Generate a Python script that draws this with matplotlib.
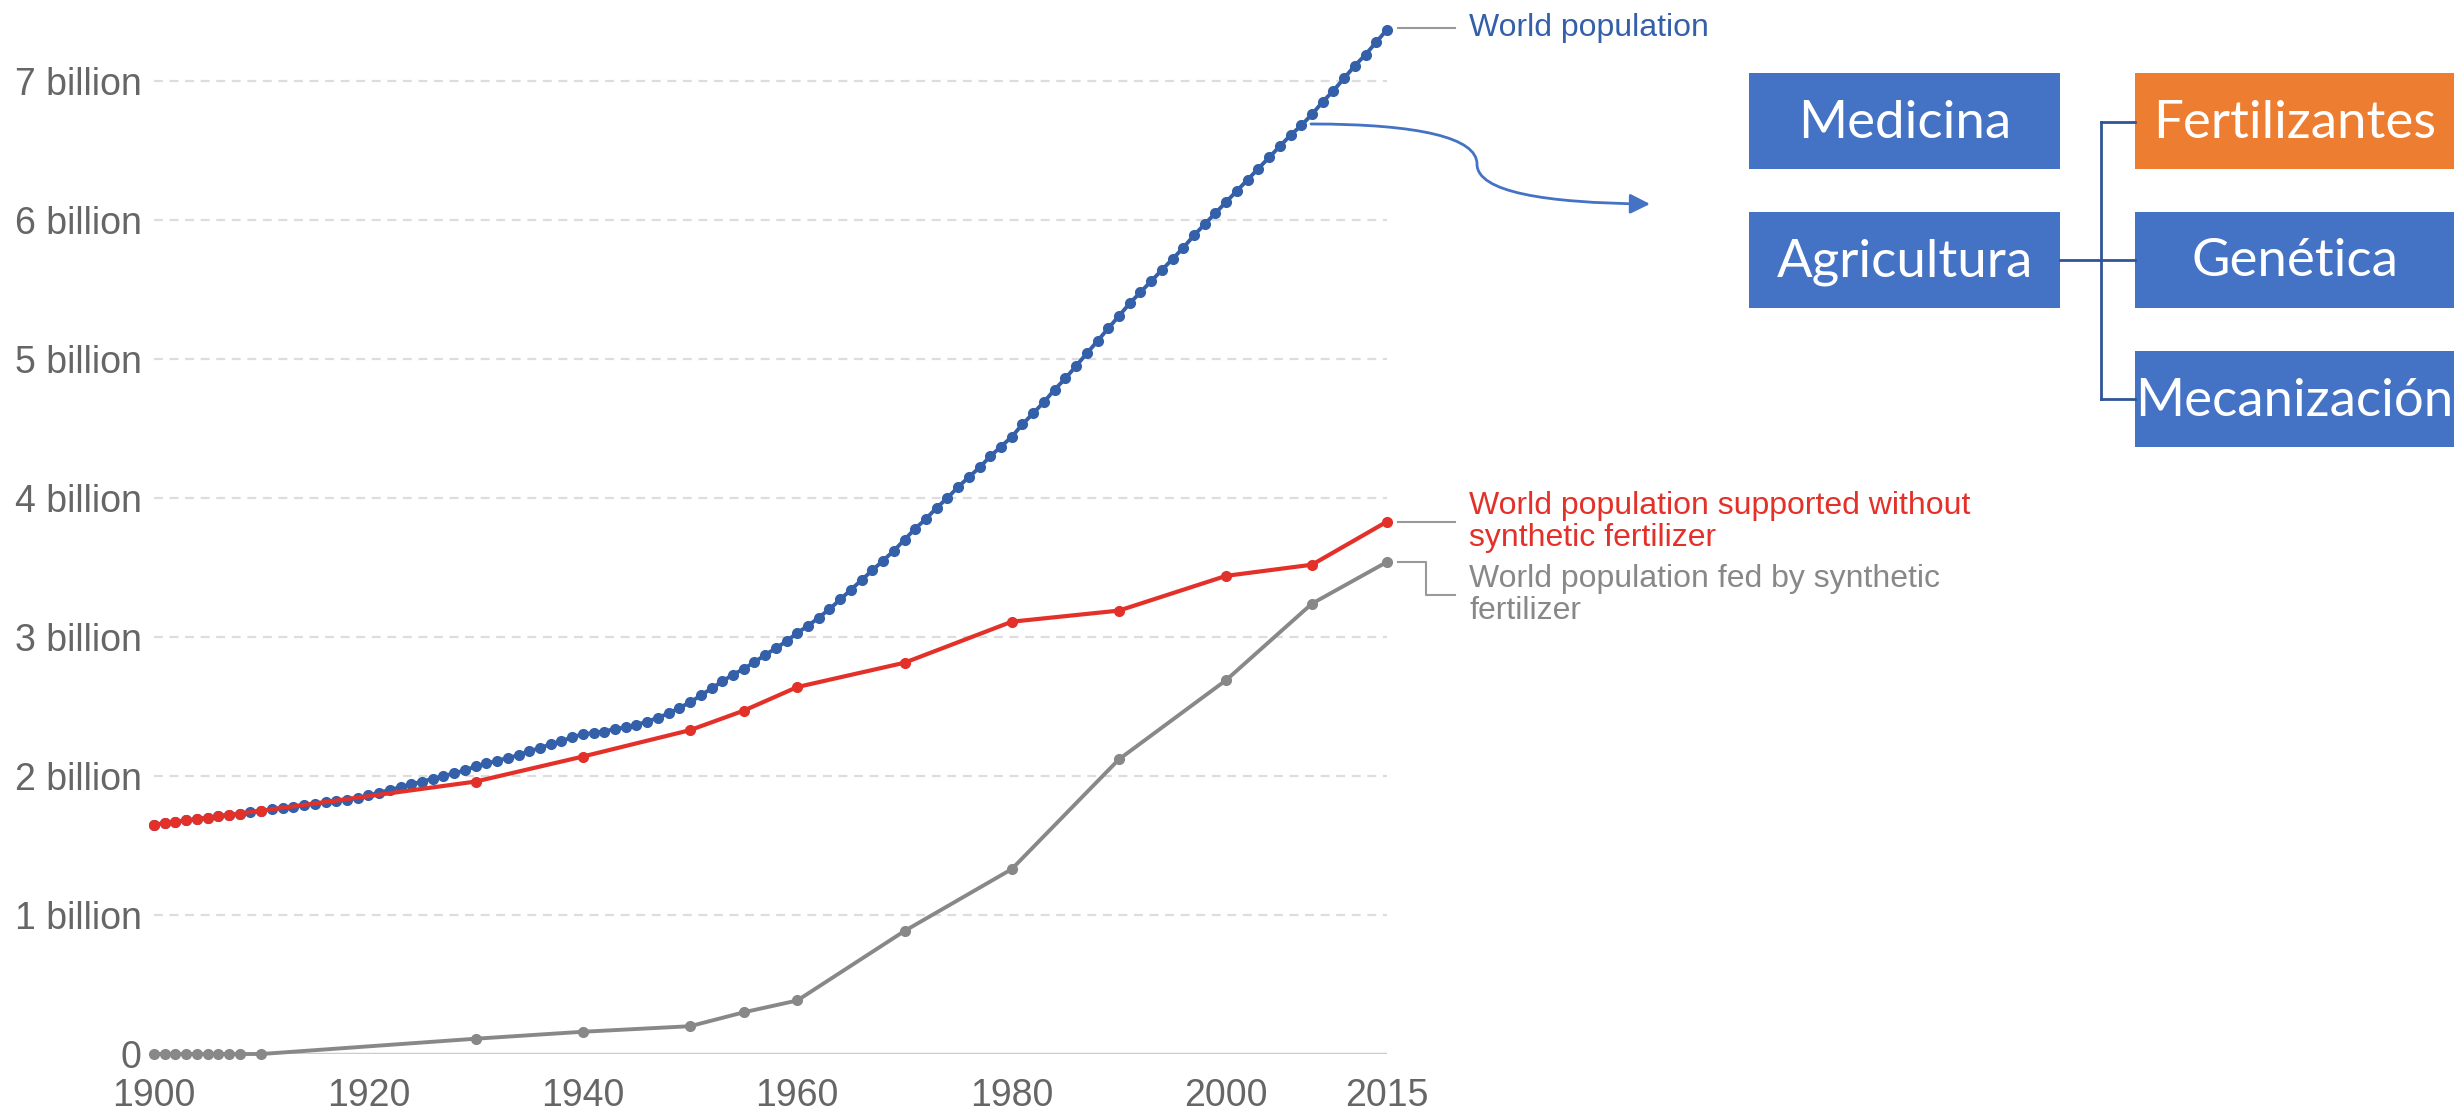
import matplotlib
matplotlib.use("Agg")
import matplotlib.pyplot as plt
from matplotlib.patches import Rectangle, FancyArrowPatch
from matplotlib.path import Path

plt.rcParams['font.family'] = ['Liberation Sans', 'DejaVu Sans']

# world population, annual (billions)
years_world = list(range(1900, 2016))
world_pop = [
    1.65, 1.66, 1.67, 1.68, 1.69, 1.70, 1.71, 1.72, 1.73, 1.74,
    1.75, 1.76, 1.77, 1.78, 1.79, 1.80, 1.81, 1.82, 1.83, 1.84,
    1.86, 1.88, 1.90, 1.92, 1.94, 1.96, 1.98, 2.00, 2.02, 2.04,
    2.07, 2.09, 2.11, 2.13, 2.15, 2.18, 2.20, 2.23, 2.25, 2.28,
    2.30, 2.31, 2.32, 2.34, 2.35, 2.37, 2.39, 2.42, 2.45, 2.49,
    2.53, 2.58, 2.63, 2.68, 2.73, 2.77, 2.82, 2.87, 2.92, 2.97,
    3.03, 3.08, 3.14, 3.20, 3.27, 3.34, 3.41, 3.48, 3.55, 3.62,
    3.70, 3.78, 3.85, 3.93, 4.00, 4.08, 4.15, 4.22, 4.30, 4.37,
    4.44, 4.53, 4.61, 4.69, 4.78, 4.86, 4.95, 5.04, 5.13, 5.22,
    5.31, 5.40, 5.48, 5.56, 5.64, 5.72, 5.80, 5.89, 5.97, 6.05,
    6.13, 6.21, 6.29, 6.37, 6.45, 6.53, 6.61, 6.68, 6.76, 6.85,
    6.93, 7.02, 7.11, 7.19, 7.28, 7.37,
]

# fertilizer series
years_fert = [1900, 1901, 1902, 1903, 1904, 1905, 1906, 1907, 1908, 1910,
              1930, 1940, 1950, 1955, 1960, 1970, 1980, 1990, 2000, 2008, 2015]
without_fert = [1.65, 1.66, 1.67, 1.68, 1.69, 1.70, 1.71, 1.72, 1.73, 1.75,
                1.96, 2.14, 2.33, 2.47, 2.64, 2.815, 3.11, 3.19, 3.44, 3.52, 3.83]
fed_by_fert = [0, 0, 0, 0, 0, 0, 0, 0, 0, 0,
               0.11, 0.16, 0.20, 0.30, 0.385, 0.885, 1.33, 2.12, 2.69, 3.24, 3.54]

y_ticks = [0, 1, 2, 3, 4, 5, 6, 7]
y_labels = ['0', '1 billion', '2 billion', '3 billion', '4 billion',
            '5 billion', '6 billion', '7 billion']
x_ticks = [1900, 1920, 1940, 1960, 1980, 2000, 2015]

box_labels = ['Medicina', 'Fertilizantes', 'Agricultura', 'Genética', 'Mecanización']

W, H = 2458, 1118
BLUE = '#3360a9'
RED = '#e3312a'
GREY = '#888888'

fig = plt.figure(figsize=(W / 100, H / 100), dpi=100)

# main chart, placed in pixel terms
x0, x1 = 154, 1387
y_zero, px_per_b = 1054, 139
ytop = 7.6
ax = fig.add_axes([x0 / W, (H - y_zero) / H, (x1 - x0) / W, ytop * px_per_b / H])
ax.set_xlim(1900, 2015)
ax.set_ylim(0, ytop)
for s in ax.spines.values():
    s.set_visible(False)

for t in y_ticks[1:]:
    ax.axhline(t, color='#dddddd', lw=1.6, ls=(0, (4, 3)), zorder=0)
ax.axhline(0, color='#cccccc', lw=2.5, zorder=0)

ax.plot(years_fert, fed_by_fert, color=GREY, lw=2.8, marker='o', ms=7,
        clip_on=False, zorder=2)
ax.plot(years_world, world_pop, color=BLUE, lw=2.8, marker='o', ms=7,
        clip_on=False, zorder=3)
ax.plot(years_fert, without_fert, color=RED, lw=3, marker='o', ms=7,
        clip_on=False, zorder=4)

ax.set_yticks(y_ticks)
ax.set_yticklabels(y_labels)
ax.set_xticks(x_ticks)
ax.set_xticklabels([str(x) for x in x_ticks])
ax.tick_params(length=0, labelsize=27, labelcolor='#666666')
ax.tick_params(axis='y', pad=9)
ax.tick_params(axis='x', pad=17)

# overlay in pixel coordinates for labels and diagram
ov = fig.add_axes([0, 0, 1, 1])
ov.set_xlim(0, W)
ov.set_ylim(H, 0)
ov.axis('off')

lab_kw = dict(fontsize=23, va='center', ha='left')
ov.plot([1398, 1455], [28, 28], color='#999999', lw=1.5)
ov.text(1469, 28, 'World population', color=BLUE, **lab_kw)

ov.plot([1398, 1455], [522, 522], color='#999999', lw=1.5)
ov.text(1469, 522, 'World population supported without\nsynthetic fertilizer',
        color=RED, linespacing=1.05, **lab_kw)

ov.plot([1398, 1426, 1426, 1455], [562, 562, 595, 595], color='#999999', lw=1.5)
ov.text(1469, 595, 'World population fed by synthetic\nfertilizer',
        color=GREY, linespacing=1.1, **lab_kw)

# curved arrow
verts = [(1311, 124), (1420, 124), (1477, 138), (1477, 164),
         (1477, 192), (1545, 203), (1650, 204)]
codes = [Path.MOVETO, Path.CURVE4, Path.CURVE4, Path.CURVE4,
         Path.CURVE4, Path.CURVE4, Path.CURVE4]
arr = FancyArrowPatch(path=Path(verts, codes), arrowstyle='-|>,head_length=12,head_width=6',
                      color='#4472c4', lw=2, mutation_scale=1)
ov.add_patch(arr)

# boxes
box_pos = {
    'Medicina': (1749, 73, 311, 96),
    'Fertilizantes': (2135, 73, 319, 96),
    'Agricultura': (1749, 212, 311, 96),
    'Genética': (2135, 212, 319, 96),
    'Mecanización': (2135, 351, 319, 96),
}
for name in box_labels:
    bx, by, bw, bh = box_pos[name]
    fc = '#ed7d31' if name == 'Fertilizantes' else '#4472c4'
    ov.add_patch(Rectangle((bx, by), bw, bh, facecolor=fc, edgecolor='none'))
    ov.text(bx + bw / 2, by + bh / 2 + 2, name, color='white', fontsize=38,
            ha='center', va='center', family=['Lato', 'DejaVu Sans'])

lc = '#2f5597'
ov.plot([2060, 2101], [260, 260], color=lc, lw=2)
ov.plot([2101, 2101], [122, 399], color=lc, lw=2)
for yy in [122, 260, 399]:
    ov.plot([2101, 2135], [yy, yy], color=lc, lw=2)

fig.savefig('out.png', dpi=100, facecolor='white')
